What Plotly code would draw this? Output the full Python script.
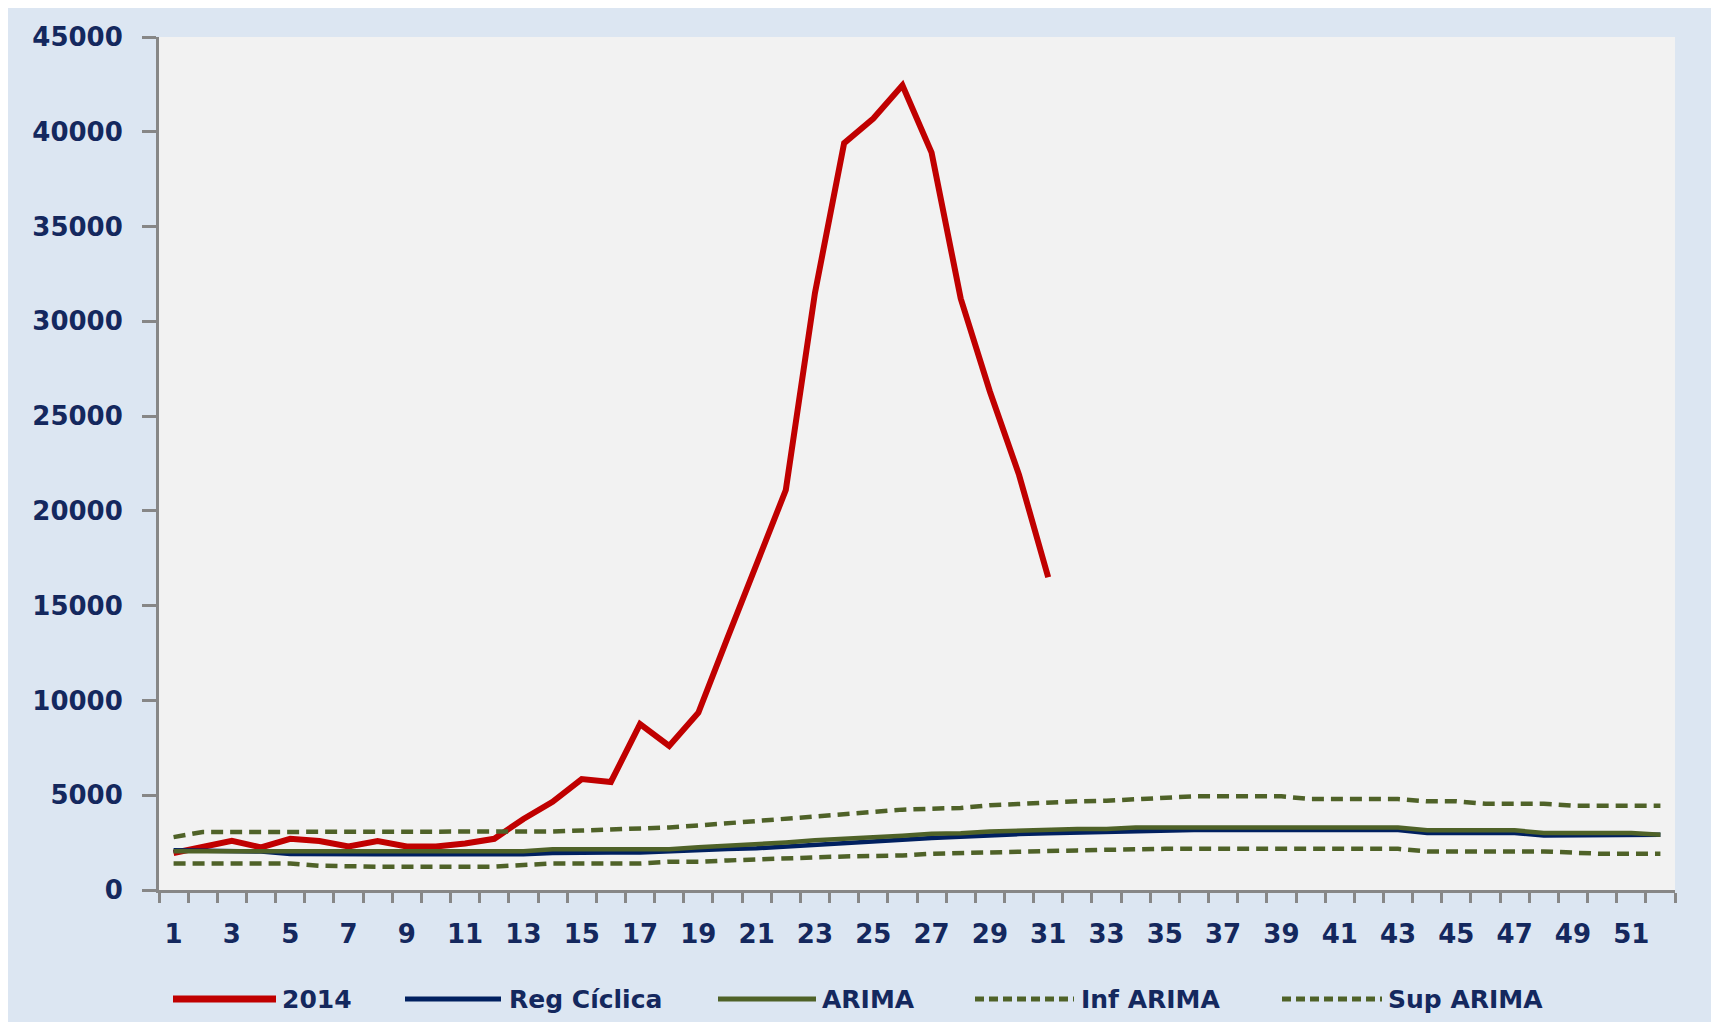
import plotly.graph_objects as go

# ---------------- data ----------------
weeks = list(range(1, 53))
x_labels = [str(w) for w in range(1, 52, 2)]

serie_2014 = [1950, 2300, 2600, 2250, 2700, 2580, 2300, 2580, 2300, 2300,
              2450, 2700, 3750, 4650, 5850, 5700, 8750, 7600, 9350, 13300,
              17300, 21100, 31500, 39400, 40700, 42450, 38900, 31200, 26300, 21900,
              16500]

reg_ciclica = [2100, 2080, 2060, 2030, 1900, 1880, 1880, 1880, 1880, 1880,
               1880, 1880, 1880, 1950, 1980, 1980, 1980, 2050, 2100, 2160,
               2200, 2300, 2390, 2480, 2560, 2650, 2740, 2830, 2900, 2950,
               2990, 3030, 3060, 3090, 3120, 3160, 3160, 3160, 3160, 3160,
               3160, 3160, 3160, 3010, 3010, 3010, 3010, 2870, 2870, 2870,
               2870, 2920]

arima = [2050, 2050, 2050, 2050, 2050, 2050, 2050, 2050, 2050, 2050,
         2050, 2050, 2050, 2150, 2150, 2150, 2150, 2150, 2250, 2330,
         2390, 2510, 2620, 2690, 2790, 2860, 2970, 3000, 3090, 3150,
         3210, 3220, 3220, 3300, 3300, 3300, 3300, 3300, 3300, 3300,
         3300, 3300, 3300, 3150, 3150, 3150, 3150, 3010, 3010, 3010,
         3010, 2920]

inf_arima = [1400, 1400, 1400, 1400, 1400, 1280, 1230, 1230, 1230, 1230,
             1230, 1230, 1320, 1400, 1400, 1400, 1400, 1490, 1490, 1560,
             1630, 1680, 1720, 1770, 1770, 1820, 1910, 1950, 1980, 2070,
             2090, 2090, 2120, 2160, 2170, 2170, 2170, 2170, 2170, 2170,
             2170, 2170, 2170, 2035, 2035, 2035, 2035, 2035, 1970, 1910,
             1910, 1910]

sup_arima = [2790, 3060, 3060, 3060, 3060, 3060, 3060, 3060, 3060, 3060,
             3060, 3060, 3060, 3090, 3140, 3200, 3220, 3300, 3400, 3520,
             3600, 3710, 3830, 3970, 4100, 4240, 4290, 4330, 4470, 4550,
             4590, 4680, 4710, 4800, 4840, 4940, 4940, 4940, 4940, 4800,
             4800, 4800, 4800, 4680, 4680, 4550, 4550, 4550, 4450, 4450,
             4450, 4450]

series_names = ["2014", "Reg Cíclica", "ARIMA", "Inf ARIMA", "Sup ARIMA"]

# ---------------- styles ----------------
RED = "#C00000"
NAVY = "#002060"
OLIVE = "#4F6228"
TXT = "#14285E"
AXIS = "#878787"
DASH = "12px,7px"

OFF = 8  # page body margin
W, H = 1719 - OFF, 1022 - OFF
# plot area in page pixels: left 159, right 1675, top 37, bottom 890
ML, MT = 159 - OFF, 37 - OFF
MR = W - (1675 - OFF)
MB = H - (890 - OFF)
PW, PH = W - ML - MR, H - MT - MB


def px2x(px):
    """page pixel x -> paper coordinate"""
    return (px - OFF - ML) / PW


def px2y(py):
    """page pixel y -> paper coordinate"""
    return (H - MB - (py - OFF)) / PH


fig = go.Figure()
fig.add_trace(go.Scatter(x=weeks[:len(serie_2014)], y=serie_2014, mode="lines",
                         name=series_names[0], line=dict(color=RED, width=6)))
fig.add_trace(go.Scatter(x=weeks, y=reg_ciclica, mode="lines", name=series_names[1],
                         line=dict(color=NAVY, width=4.5)))
fig.add_trace(go.Scatter(x=weeks, y=arima, mode="lines", name=series_names[2],
                         line=dict(color=OLIVE, width=4.5)))
fig.add_trace(go.Scatter(x=weeks, y=inf_arima, mode="lines", name=series_names[3],
                         line=dict(color=OLIVE, width=4.5, dash=DASH)))
fig.add_trace(go.Scatter(x=weeks, y=sup_arima, mode="lines", name=series_names[4],
                         line=dict(color=OLIVE, width=4.5, dash=DASH)))

shapes = [
    # outer light-blue chart area
    dict(type="rect", xref="paper", yref="paper", layer="below",
         x0=px2x(OFF), x1=px2x(1713), y0=px2y(1022), y1=px2y(OFF),
         fillcolor="#DCE6F2", line=dict(width=0)),
    # plot area
    dict(type="rect", xref="paper", yref="paper", layer="below",
         x0=0, x1=1, y0=0, y1=1, fillcolor="#F2F2F2", line=dict(width=0)),
]

annotations = []
legend_items = [
    (series_names[0], RED, "solid", 7, 173, 276, 280),
    (series_names[1], NAVY, "solid", 5, 405, 501, 507),
    (series_names[2], OLIVE, "solid", 5, 718, 816, 820),
    (series_names[3], OLIVE, "dash", 5, 975, 1074, 1079),
    (series_names[4], OLIVE, "dash", 5, 1282, 1382, 1386),
]
ly = px2y(999)
for name, col, dash, lw, x0, x1, xt in legend_items:
    shapes.append(dict(type="line", xref="paper", yref="paper",
                       x0=px2x(x0), x1=px2x(x1), y0=ly, y1=ly,
                       line=dict(color=col, width=lw,
                                 dash="9px,5px" if dash == "dash" else "solid")))
    annotations.append(dict(xref="paper", yref="paper", x=px2x(xt), y=ly,
                            text=name, showarrow=False, xanchor="left",
                            yanchor="middle",
                            font=dict(family="DejaVu Sans", size=25,
                                      color=TXT, weight="bold")))

fig.update_layout(
    width=W, height=H,
    margin=dict(l=ML, r=MR, t=MT, b=MB),
    paper_bgcolor="white",
    plot_bgcolor="#F2F2F2",
    showlegend=False,
    shapes=shapes,
    annotations=annotations,
    font=dict(family="DejaVu Sans", color=TXT),
)

fig.update_xaxes(
    range=[0.5, 52.5],
    tickmode="array", tickvals=list(range(1, 52, 2)), ticktext=x_labels,
    ticks="outside", ticklen=19, tickcolor="rgba(0,0,0,0)",
    tickfont=dict(family="DejaVu Sans", size=26, color=TXT, weight="bold"),
    showline=True, linecolor=AXIS, linewidth=3,
    showgrid=False, zeroline=False,
    minor=dict(tickmode="array", tickvals=[w + 0.5 for w in range(0, 53)],
               ticks="outside", ticklen=10, tickwidth=3, tickcolor=AXIS,
               showgrid=False),
)

fig.update_yaxes(
    range=[0, 45000], tick0=0, dtick=5000, tickformat="d",
    ticks="outside", ticklen=14, tickwidth=3, tickcolor=AXIS,
    tickfont=dict(family="DejaVu Sans", size=26, color=TXT, weight="bold"),
    ticklabelstandoff=14,
    showline=True, linecolor=AXIS, linewidth=3,
    showgrid=False, zeroline=False,
)

fig.write_html("out.html")
